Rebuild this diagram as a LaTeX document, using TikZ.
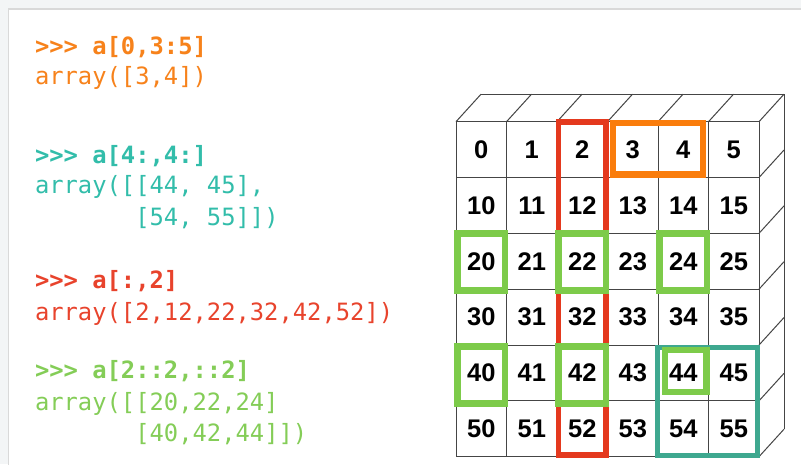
\documentclass[tikz,border=0pt]{standalone}
\usepackage{fontspec}
\usetikzlibrary{calc}
\newfontfamily\codefont{DejaVu Sans Mono}
\newfontfamily\numfont{Liberation Sans}
\definecolor{bgc}{HTML}{F3F5F6}
\definecolor{panelc}{HTML}{D9D9D9}
\definecolor{gridc}{HTML}{454545}
\definecolor{orangeT}{HTML}{F7821B}
\definecolor{orangeB}{HTML}{FA7D0C}
\definecolor{tealT}{HTML}{32BDAA}
\definecolor{tealB}{HTML}{3EA88F}
\definecolor{redT}{HTML}{E8432C}
\definecolor{redB}{HTML}{E4391E}
\definecolor{greenT}{HTML}{84CD57}
\definecolor{greenB}{HTML}{7DCB4A}
\tikzset{
  code/.style={anchor=base west, inner sep=0pt, outer sep=0pt, font=\codefont\fontsize{23.8}{28}\selectfont},
  prompt/.style={code, font=\codefont\bfseries\fontsize{23.8}{28}\selectfont},
  cell/.style={draw=gridc, line width=1pt, minimum width=50.5pt, minimum height=55.83pt,
    inner sep=0pt, outer sep=0pt, fill=white, font=\numfont\bfseries\fontsize{25.5}{25.5}\selectfont},
  gridline/.style={draw=gridc, line width=1pt},
  hl/.style={line width=6.5pt}
}
\begin{document}
\begin{tikzpicture}[x=1pt,y=-1pt]
\useasboundingbox (0,0) rectangle (801,464);
\clip (0,0) rectangle (801,464);
\fill[bgc] (0,0) rectangle (801,464);
\filldraw[fill=white, draw=panelc, line width=1.5pt] (8.5,9) rectangle (812,475);

% code text
\node[prompt, text=orangeT] (t1) at (35,54) {>>> a[0,3:5]};
\node[code, text=orangeT] (t2) at (35,84.5) {array([3,4])};
\node[prompt, text=tealT] (t3) at (35,163) {>>> a[4:,4:]};
\node[code, text=tealT] (t4) at (35,193.5) {array([[44, 45],};
\node[code, text=tealT] (t5) at (35,225) {\phantom{array([}[54, 55]])};
\node[prompt, text=redT] (t6) at (35,288.5) {>>> a[:,2]};
\node[code, text=redT] (t7) at (35,320) {array([2,12,22,32,42,52])};
\node[prompt, text=greenT] (t8) at (35,378.5) {>>> a[2::2,::2]};
\node[code, text=greenT] (t9) at (35,410) {array([[20,22,24]};
\node[code, text=greenT] (t10) at (35,441.5) {\phantom{array([}[40,42,44]])};

% cells
\foreach \i in {0,...,5}{
  \foreach \j [evaluate=\j as \v using {int(10*\i+\j)}] in {0,...,5}{
    \node[cell] (c\i\j) at ({456+50.5*(\j+0.5)},{121.7+55.83*(\i+0.5)}) {\v};
  }
}
% 3D top and right faces
\foreach \j in {0,...,5}{
  \draw[gridline] (c0\j.north west) -- ++(25,-27.5);
}
\draw[gridline] (c05.north east) -- ++(25,-27.5) coordinate (btr);
\coordinate (btl) at ($(c00.north west)+(25,-27.5)$);
\draw[gridline] (btl) -- (btr);
\foreach \i in {1,...,5}{
  \draw[gridline] (c\i5.north east) -- ++(25,-27.5);
}
\draw[gridline] (c55.south east) -- ++(25,-27.5) coordinate (bbr);
\draw[gridline] (btr) -- (bbr);

% highlights
\draw[redB, line width=5.5pt] ($(c02.north west)+(1.5,0.5)$) rectangle ($(c52.south east)+(-1.5,-1.5)$);
\draw[orangeB, hl] ($(c03.north west)+(5.5,1.5)$) rectangle ($(c04.south east)+(-5.5,-3)$);
\draw[tealB, line width=5pt] ($(c44.north west)+(-0.5,2.5)$) rectangle ($(c55.south east)+(-2,-0.7)$);
\foreach \c in {20,22,24}{
  \draw[greenB, hl] ($(c\c.north west)+(1.5,0)$) rectangle ($(c\c.south east)+(-1.5,1.5)$);
}
\foreach \c in {40,42}{
  \draw[greenB, hl] ($(c\c.north west)+(1.5,1.7)$) rectangle ($(c\c.south east)+(-1.5,2.5)$);
}
\draw[greenB, hl] ($(c44.north west)+(7,5)$) rectangle ($(c44.south east)+(-2,-9)$);
\end{tikzpicture}
\end{document}
